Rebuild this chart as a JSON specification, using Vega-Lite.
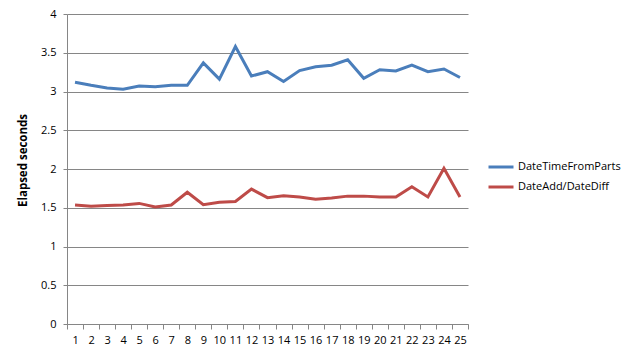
{
  "$schema": "https://vega.github.io/schema/vega-lite/v6.json",
  "width": 401,
  "height": 310,
  "autosize": {"type": "none"},
  "padding": {"left": 67, "top": 14, "right": 172, "bottom": 35},
  "background": "white",
  "config": {
    "font": "Open Sans",
    "view": {"stroke": null},
    "axis": {"labelFont": "Open Sans", "labelFontSize": 11, "labelColor": "#000000", "domainColor": "#868686", "tickColor": "#868686", "gridColor": "#868686"}
  },
  "data": {
    "values": [
      {"run": 1, "method": "DateTimeFromParts", "seconds": 3.12},
      {"run": 2, "method": "DateTimeFromParts", "seconds": 3.08},
      {"run": 3, "method": "DateTimeFromParts", "seconds": 3.045},
      {"run": 4, "method": "DateTimeFromParts", "seconds": 3.03},
      {"run": 5, "method": "DateTimeFromParts", "seconds": 3.07},
      {"run": 6, "method": "DateTimeFromParts", "seconds": 3.06},
      {"run": 7, "method": "DateTimeFromParts", "seconds": 3.08},
      {"run": 8, "method": "DateTimeFromParts", "seconds": 3.08},
      {"run": 9, "method": "DateTimeFromParts", "seconds": 3.37},
      {"run": 10, "method": "DateTimeFromParts", "seconds": 3.16},
      {"run": 11, "method": "DateTimeFromParts", "seconds": 3.58},
      {"run": 12, "method": "DateTimeFromParts", "seconds": 3.2},
      {"run": 13, "method": "DateTimeFromParts", "seconds": 3.255},
      {"run": 14, "method": "DateTimeFromParts", "seconds": 3.13},
      {"run": 15, "method": "DateTimeFromParts", "seconds": 3.27},
      {"run": 16, "method": "DateTimeFromParts", "seconds": 3.32},
      {"run": 17, "method": "DateTimeFromParts", "seconds": 3.34},
      {"run": 18, "method": "DateTimeFromParts", "seconds": 3.41},
      {"run": 19, "method": "DateTimeFromParts", "seconds": 3.17},
      {"run": 20, "method": "DateTimeFromParts", "seconds": 3.28},
      {"run": 21, "method": "DateTimeFromParts", "seconds": 3.265},
      {"run": 22, "method": "DateTimeFromParts", "seconds": 3.34},
      {"run": 23, "method": "DateTimeFromParts", "seconds": 3.255},
      {"run": 24, "method": "DateTimeFromParts", "seconds": 3.29},
      {"run": 25, "method": "DateTimeFromParts", "seconds": 3.18},
      {"run": 1, "method": "DateAdd/DateDiff", "seconds": 1.535},
      {"run": 2, "method": "DateAdd/DateDiff", "seconds": 1.52},
      {"run": 3, "method": "DateAdd/DateDiff", "seconds": 1.53},
      {"run": 4, "method": "DateAdd/DateDiff", "seconds": 1.535},
      {"run": 5, "method": "DateAdd/DateDiff", "seconds": 1.556},
      {"run": 6, "method": "DateAdd/DateDiff", "seconds": 1.51},
      {"run": 7, "method": "DateAdd/DateDiff", "seconds": 1.535},
      {"run": 8, "method": "DateAdd/DateDiff", "seconds": 1.7},
      {"run": 9, "method": "DateAdd/DateDiff", "seconds": 1.54},
      {"run": 10, "method": "DateAdd/DateDiff", "seconds": 1.57},
      {"run": 11, "method": "DateAdd/DateDiff", "seconds": 1.58},
      {"run": 12, "method": "DateAdd/DateDiff", "seconds": 1.74},
      {"run": 13, "method": "DateAdd/DateDiff", "seconds": 1.63},
      {"run": 14, "method": "DateAdd/DateDiff", "seconds": 1.655},
      {"run": 15, "method": "DateAdd/DateDiff", "seconds": 1.64},
      {"run": 16, "method": "DateAdd/DateDiff", "seconds": 1.61},
      {"run": 17, "method": "DateAdd/DateDiff", "seconds": 1.625},
      {"run": 18, "method": "DateAdd/DateDiff", "seconds": 1.65},
      {"run": 19, "method": "DateAdd/DateDiff", "seconds": 1.65},
      {"run": 20, "method": "DateAdd/DateDiff", "seconds": 1.64},
      {"run": 21, "method": "DateAdd/DateDiff", "seconds": 1.64},
      {"run": 22, "method": "DateAdd/DateDiff", "seconds": 1.77},
      {"run": 23, "method": "DateAdd/DateDiff", "seconds": 1.64},
      {"run": 24, "method": "DateAdd/DateDiff", "seconds": 2.01},
      {"run": 25, "method": "DateAdd/DateDiff", "seconds": 1.64}
    ]
  },
  "mark": {"type": "line", "strokeWidth": 3, "strokeJoin": "miter", "clip": false},
  "encoding": {
    "x": {
      "field": "run",
      "type": "ordinal",
      "bandPosition": 0.5,
      "scale": {"type": "band", "paddingInner": 0, "paddingOuter": 0},
      "axis": {"title": null, "labelAngle": 0, "tickBand": "extent", "tickSize": 5, "labelPadding": 5, "grid": false}
    },
    "y": {
      "field": "seconds",
      "type": "quantitative",
      "scale": {"domain": [0, 4], "nice": false, "zero": true},
      "axis": {
        "title": "Elapsed seconds",
        "titleFont": "Open Sans",
        "titleFontSize": 11.5,
        "titleFontWeight": "bold",
        "titleColor": "#000000",
        "titlePadding": 12,
        "titleY": 146,
        "values": [0, 0.5, 1, 1.5, 2, 2.5, 3, 3.5, 4],
        "labelExpr": "datum.value",
        "tickSize": 4,
        "labelPadding": 7,
        "grid": true
      }
    },
    "color": {
      "field": "method",
      "type": "nominal",
      "scale": {"domain": ["DateTimeFromParts", "DateAdd/DateDiff"], "range": ["#4A7EBB", "#BE4B48"]},
      "legend": {
        "title": null,
        "orient": "none",
        "legendX": 420,
        "legendY": 139,
        "symbolType": "stroke",
        "symbolSize": 625,
        "symbolStrokeWidth": 3,
        "labelFont": "Open Sans",
        "labelFontSize": 11,
        "labelColor": "#000000",
        "labelOffset": 3,
        "rowPadding": 0
      }
    }
  }
}
